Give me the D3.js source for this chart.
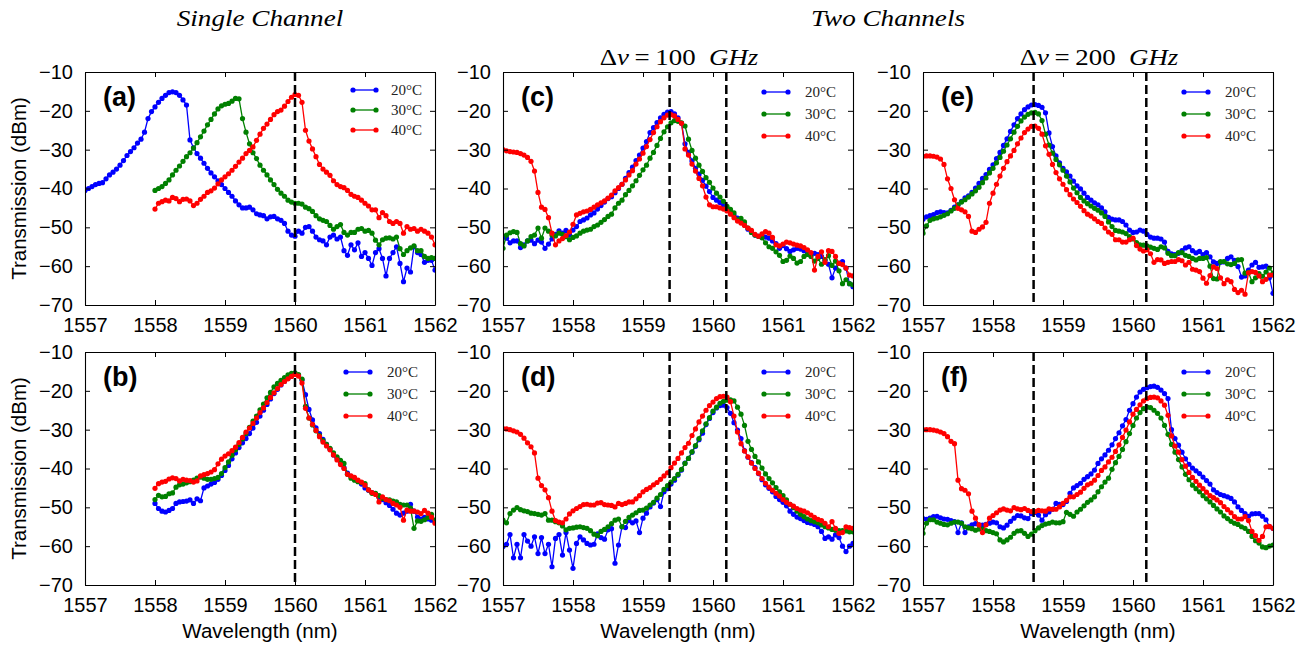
<!DOCTYPE html>
<html>
<head>
<meta charset="utf-8">
<script src="https://cdn.jsdelivr.net/npm/d3@7"></script>
<style>
body { margin: 0; background: #fff; }
svg { display: block; }
</style>
</head>
<body>
<svg id="drawing_region"></svg>
<script>
// series labels and axis ticks
const temps = ["20°C", "30°C", "40°C"];
const colors = ["#0000ff", "#008000", "#ff0000"];
const wlTicks = [1557, 1558, 1559, 1560, 1561, 1562];
const dbTicks = [-70, -60, -50, -40, -30, -20, -10];
const step = 0.05;   // nm between samples

// first wavelength of each series (20, 30, 40 C)
const startA = [1557, 1558, 1558];
const startB = [1558, 1558, 1558];
const startFull = [1557, 1557, 1557];

// dashed channel markers (nm)
const markA = [1560.0];
const markB = [1560.0];
const markCD = [1559.38, 1560.19];
const markEF = [1558.58, 1560.19];

// (a) single channel, transmission in dBm
const a20 = [-40.5,-40,-39.5,-39,-38.7,-38.5,-37.5,-36.5,-35.8,-35,
  -34,-32.8,-31.5,-30.5,-29.5,-28.3,-27.3,-25.5,-22,-20.2,
  -19,-17.8,-16.8,-16,-15.3,-15.1,-15.3,-16,-17.2,-18.5,
  -27.5,-29.5,-31,-32.2,-33.5,-34.8,-36,-37,-38,-39,
  -40,-41,-42,-43.2,-44.2,-45,-45,-44.8,-45.5,-46.5,
  -46.8,-47,-47.8,-47.3,-47.2,-47.8,-48.2,-49,-51,-52,
  -52.3,-51,-51.5,-50,-49.8,-51,-52.5,-53.2,-53.5,-54.5,
  -52.5,-52,-53,-52.5,-56,-57.2,-54.5,-55.8,-54,-57.5,
  -56.5,-58,-59.8,-56.5,-55.5,-58,-62.5,-58,-56.5,-55,
  -59.3,-64,-60.5,-61.5,-55,-56.5,-57,-59,-58.5,-58.5,
  -61];
const a30 = [-40.5,-40,-39.5,-38.7,-37.8,-36.5,-35.3,-34.2,-33,-31.8,
  -30.8,-29.6,-28.2,-26.7,-25.2,-23.6,-22.2,-20.8,-19.5,-18.7,
  -18.3,-18.1,-17.5,-16.8,-16.9,-22,-25.5,-28.5,-30.8,-32.3,
  -34,-35.3,-36.5,-37.8,-39,-40.2,-41.2,-42,-43,-43.5,
  -43.8,-43.8,-44,-44.8,-45.2,-45.9,-47,-47.8,-48.2,-48.5,
  -49.5,-50.5,-49.8,-49.3,-51.3,-52,-51.3,-51.3,-50.5,-50.3,
  -51,-50.8,-51.5,-53.3,-54.5,-53.2,-52.8,-52.7,-53,-52.5,
  -55.5,-57,-56,-55.3,-54.8,-56,-56,-57.5,-58,-57.8,
  -58];
const a40 = [-45.3,-43.8,-43.4,-43,-43.2,-42.3,-42.6,-43.4,-42.8,-42.7,
  -43.2,-44.4,-43.8,-42.8,-42,-41,-40.6,-39.9,-38.8,-37.8,
  -37,-36.2,-35.3,-34.3,-33.2,-32.2,-31,-30.2,-29.3,-27.6,
  -26,-24.5,-23.4,-22.2,-21,-20.2,-19.8,-18.8,-17.6,-16.5,
  -15.8,-16,-17.8,-25,-27.8,-29.8,-31.8,-33.8,-35,-35.8,
  -36.6,-38,-39,-39.5,-39.8,-40.5,-41.5,-42,-42.3,-43,
  -43.8,-44.5,-45.5,-45.5,-47.5,-46.2,-47,-48.5,-49,-48.5,
  -49,-51.5,-49.8,-50.5,-50.3,-51,-50.5,-51,-51.5,-52.5,
  -54.5];

// (b) single channel, tuned
const b20 = [-49,-50.3,-51,-51.2,-50.8,-50.3,-49,-48.6,-48.5,-48.4,
  -48.1,-49,-47.8,-48.3,-45,-44.5,-44,-43.6,-42.8,-41.8,
  -40.5,-39.2,-37.5,-36,-34.6,-33.4,-32.3,-31,-29.6,-28.1,
  -26.5,-25,-23.5,-22.1,-20.7,-19.6,-18.5,-17.6,-16.8,-16.2,
  -15.7,-16,-17.2,-21,-24.8,-27.5,-29.5,-31,-32.5,-33.8,
  -35,-36.5,-37.3,-38.6,-39.8,-41.2,-42,-42.6,-43.3,-44,
  -45,-45.6,-46.2,-46.5,-47.4,-48,-48.8,-49.5,-50.5,-51.5,
  -52,-51.5,-51,-49.2,-51,-52.5,-53,-52.6,-53,-53.3,
  -53.7];
const b30 = [-48,-46.9,-47.3,-47.2,-46.5,-46.3,-44.8,-44.2,-44,-43.7,
  -43.4,-43,-42.5,-42.2,-42.5,-42.8,-42.8,-42.6,-42.3,-41.3,
  -39.8,-38.3,-36.6,-35.2,-33.8,-32.4,-31,-29.4,-27.8,-26.5,
  -24.9,-23.4,-21.8,-20.4,-19,-18.1,-17.3,-16.6,-15.9,-15.5,
  -15.4,-15.8,-17,-24,-27,-28.8,-30.3,-31.5,-32.8,-33.8,
  -34.8,-36,-37,-37.9,-38.7,-41.5,-42.5,-43,-43.4,-43.6,
  -43.9,-45.5,-46.4,-46.4,-47,-47.7,-48,-48.1,-48.4,-48.6,
  -49.2,-49.4,-49.4,-50.2,-55.4,-53.5,-53.6,-53.2,-52.6,-51.8,
  -53.3];
const b40 = [-45.1,-43.9,-43.5,-43.3,-42.7,-42.4,-42.6,-43.2,-42.8,-43,
  -43.1,-43.5,-43.2,-41.9,-41.6,-41.3,-40.9,-40.3,-38.8,-37.6,
  -36.8,-36.2,-35.4,-34.5,-33.3,-32,-30.6,-29.6,-28.4,-27,
  -25.6,-24.4,-23,-21.7,-20.5,-19.4,-18.4,-17.6,-16.9,-16.3,
  -15.8,-16.2,-18,-24.5,-27,-28.6,-30.2,-31.8,-33.2,-34.2,
  -35.2,-36.5,-37.8,-39,-40,-41.5,-41.9,-42.3,-43,-43.5,
  -44.3,-45.5,-46.2,-46.7,-48.6,-47.3,-48,-48.3,-49,-49.4,
  -50,-53.3,-50.7,-51,-51,-51.2,-51.6,-50.8,-51.5,-52.5,
  -54.1];

// (c) two channels, 100 GHz, first channel
const c20 = [-52.3,-52.8,-54,-53.5,-53.5,-55.2,-54.5,-53.5,-53.3,-54.2,
  -53.3,-53.8,-55.4,-54.3,-53,-51.8,-50.9,-51.5,-50.8,-52,
  -50.7,-49.8,-48.5,-48.1,-47.6,-46.8,-46.3,-45.3,-44.4,-43.5,
  -42.6,-42.1,-41.1,-40,-38.9,-37.4,-35.9,-34.5,-32.8,-31.4,
  -29.6,-27.9,-25.6,-24.3,-23,-21.8,-20.9,-20.3,-20.2,-20.8,
  -21.8,-23.2,-28.5,-30.7,-32.9,-34.8,-36.3,-37.9,-39.4,-40.8,
  -42.3,-43,-43.6,-44.4,-45.3,-46.3,-46.9,-47.6,-48.5,-49.4,
  -50.5,-51.3,-52,-52.3,-52,-52.5,-52.8,-53.5,-54.2,-55.4,
  -54.7,-55.5,-56.2,-55.8,-55.4,-55.6,-56,-56.8,-57,-56.7,
  -57,-57.5,-58.5,-59.5,-63,-60.5,-59.2,-58.8,-60.5,-64.5,
  -65.3];
const c30 = [-55.4,-52,-51.4,-51.1,-51.3,-54.2,-54.8,-53.5,-52.4,-52,
  -50.2,-52.8,-50.2,-51,-52,-52.2,-51.5,-51.8,-52.4,-53.2,
  -52.6,-52.2,-51.5,-51,-50.7,-50.5,-49.8,-49.4,-48.7,-48,
  -47.2,-46.6,-45,-43.8,-43,-41.6,-40.5,-39.3,-38,-36.6,
  -35.2,-34,-32.2,-30.7,-28.9,-27.1,-25.4,-24.1,-23.1,-22.5,
  -22.7,-23.1,-23.9,-27.3,-30.2,-32.2,-34,-35.6,-37.2,-38.4,
  -39.9,-41.2,-42.2,-43.3,-44.6,-45.4,-46.3,-48.1,-47.7,-48.6,
  -50.2,-51.3,-52,-52.3,-52.7,-54,-55,-55.4,-56.3,-57.2,
  -58.8,-58.5,-57.4,-58,-59.2,-58.8,-57.5,-57,-57.5,-58.7,
  -58,-59.5,-58.3,-57.3,-59.8,-58.7,-61.2,-64.5,-63.5,-64.5,
  -64.8];
const c40 = [-30,-30.3,-30.5,-30.6,-30.7,-31,-31.4,-32,-33,-35.5,
  -41,-44.8,-45.4,-47.5,-51.5,-54.5,-53.5,-52.9,-52.1,-51.2,
  -49.2,-46.8,-46.4,-46,-45.8,-45.4,-44.8,-44.2,-43.7,-43.2,
  -42.5,-41.7,-40.6,-39.8,-38.9,-37.8,-36.5,-35.4,-33.7,-32.4,
  -30.9,-29.2,-27.4,-25.6,-24.1,-22.8,-21.8,-21.1,-21,-21.3,
  -22.2,-23.2,-29.8,-31.4,-33.7,-35.5,-37.4,-39.3,-42.2,-44.2,
  -44.7,-44.7,-45,-45.3,-45.8,-46.6,-47.5,-48.4,-48.9,-49.5,
  -50.2,-50.8,-51.8,-52.3,-51.7,-51.1,-51.5,-52.6,-54.5,-54.8,
  -54.3,-53.8,-54,-54.3,-54.6,-54.8,-55.2,-55.8,-56.5,-61,
  -57.5,-56.3,-59,-56,-56.2,-57.5,-59.3,-59.6,-60.5,-62.3,
  -62.5];

// (d) two channels, 100 GHz, second channel
const d20 = [-60.1,-59.5,-57,-63,-59.5,-63,-57,-58.7,-60,-57.6,
  -61.9,-57.8,-61.9,-59.5,-65.3,-58,-57,-62.3,-56.5,-61,
  -65.7,-59.3,-57.6,-58.4,-59.3,-59.7,-59.5,-56.8,-57.8,-58.2,
  -55.8,-55.5,-64.4,-59.7,-55,-55.2,-53.4,-54,-53.5,-56.5,
  -52.8,-51.5,-49.9,-48.9,-48,-49.8,-46,-45.2,-44,-43,
  -41.7,-40.4,-38.6,-37.4,-35.8,-34.3,-32.6,-30.9,-28.7,-27.1,
  -25.6,-24.4,-23.8,-23.7,-24.3,-25.8,-28.2,-30.1,-32.3,-35.4,
  -37.1,-38.5,-39.8,-41.3,-42.9,-44.2,-45.1,-46,-47.2,-48,
  -48.7,-49.6,-51,-51.8,-52.5,-52.9,-53.4,-53.9,-54.1,-54.4,
  -55,-56.2,-58,-57.6,-58.2,-57.1,-57.8,-60,-61.4,-60,
  -59.3];
const d30 = [-53.3,-54,-51.6,-50.7,-50.1,-50.6,-50.9,-51.1,-51.5,-51.6,
  -51.8,-52,-51.6,-53.3,-53.3,-53.7,-54,-54.8,-55.8,-55.4,
  -55.3,-55.1,-55,-55.2,-55.4,-56,-56.9,-57.3,-56.2,-55.7,
  -55,-54.2,-53.3,-53,-55,-53.6,-52.6,-52,-51.4,-50.8,
  -50.7,-50.2,-49.4,-48.7,-47.6,-46.7,-45.4,-44.4,-43.5,-42.6,
  -41.5,-40.2,-38.7,-37.4,-35.7,-34.1,-32.3,-30.3,-28.5,-26.9,
  -25.2,-24.2,-23.2,-22.7,-22.4,-22.3,-22.6,-24.2,-26,-28.9,
  -33,-35.1,-36.9,-38.3,-39.9,-41.4,-42.6,-43.7,-44.9,-46,
  -47,-48.1,-49.2,-50.1,-51,-51.8,-52.4,-53,-53.4,-53.7,
  -54,-54.5,-55,-55.3,-55.7,-55.9,-56,-56,-56.1,-56.3,
  -56.3];
const d40 = [-29.7,-29.8,-30,-30.3,-30.6,-31.2,-32.2,-33.4,-34.4,-36,
  -42.5,-44.4,-45.5,-47.5,-51,-53.4,-53.8,-54,-53,-51.7,
  -50.9,-50.3,-49.8,-49.3,-49.2,-49.4,-49.4,-48.9,-48.8,-49.3,
  -49.4,-49.5,-49.9,-49,-49.3,-49,-48.6,-48.6,-47.8,-47,
  -46,-45.4,-44.9,-44.2,-43.6,-42.8,-41.9,-41.1,-39.8,-38.6,
  -37.4,-36,-34.6,-33.5,-31.5,-29.8,-28,-26.5,-25,-23.8,
  -22.9,-22,-21.5,-21.4,-21.6,-22.8,-26.5,-30.6,-33.6,-35.5,
  -37,-38.6,-40,-41.2,-42.6,-43.8,-44.8,-45.6,-46.4,-47.1,
  -48,-48.7,-49.2,-49.7,-50.3,-50.7,-51,-51.4,-52,-52.6,
  -53.1,-53.4,-54.1,-55,-53.7,-55.4,-56.7,-56.5,-55,-55.2,
  -55.4];

// (e) two channels, 200 GHz, first channel
const e20 = [-47.9,-47.3,-47,-46.7,-46.2,-46,-46.2,-46.3,-45.6,-44.8,
  -44.2,-43.3,-42.4,-41.9,-41,-39.9,-38.7,-37.4,-36.4,-35.1,
  -33.9,-32.3,-30.7,-28.9,-27.2,-25.3,-23.6,-22,-20.8,-19.7,
  -19,-18.5,-18.4,-18.6,-19.1,-20.5,-25.7,-29.2,-31.6,-33.4,
  -34.8,-35.7,-36.8,-38.1,-39.3,-40.1,-41.2,-42.3,-43,-43.7,
  -44.2,-45,-46,-47.4,-47.9,-48.1,-48.1,-48.5,-49.4,-50.7,
  -51.3,-51.2,-50.7,-51,-51.8,-52.5,-52.8,-52.8,-53,-53.8,
  -56.2,-56.8,-57,-56.7,-56,-55.3,-55,-56,-56.6,-56.2,
  -57,-56.5,-57.6,-58.9,-59.3,-59,-58.9,-58,-57.6,-58.5,
  -60.1,-62.8,-62.5,-61,-59.7,-59,-60.3,-60.2,-60,-63,
  -67];
const e30 = [-51.5,-49.6,-48.2,-47.8,-47.6,-47.3,-46.9,-46.5,-45.8,-45.1,
  -44.2,-43.5,-42.9,-42.2,-41.4,-40.6,-39.7,-38.5,-37.3,-36,
  -34.8,-33.4,-32,-30.4,-28.8,-27.2,-25.5,-24,-22.6,-21.6,
  -20.9,-20.5,-20.4,-20.8,-22.5,-26,-28.8,-30.9,-32.5,-33.9,
  -35.3,-36.8,-38.3,-39.9,-41.1,-42.3,-43.2,-43.9,-44.5,-45.1,
  -45.6,-46.3,-47.2,-48.6,-49.8,-50.8,-51,-51.2,-51.6,-52.4,
  -53,-53.9,-54.5,-54.6,-54.8,-55.1,-55.4,-55.7,-55,-55.3,
  -56.7,-57.3,-57.3,-56.5,-56.5,-57.2,-57.5,-58,-58.4,-58,
  -58,-57.8,-60,-63.2,-63.3,-58.8,-58.8,-59.4,-59.6,-59.3,
  -58.4,-58.3,-61.8,-61.6,-64,-63,-61.9,-62.6,-61.5,-60.5,
  -61.8];
const e40 = [-31.7,-31.6,-31.6,-31.7,-31.9,-32.4,-33.8,-37.5,-40,-42.9,
  -45.1,-45.5,-46,-47.2,-51,-51.3,-50.5,-49.9,-48.7,-43.8,
  -41.2,-38.9,-36.8,-34.8,-33.1,-31.6,-30.2,-28.5,-27,-25.6,
  -24.7,-24,-23.9,-24.5,-26,-29,-31.2,-33.8,-35.9,-37.5,
  -38.9,-40.3,-41.6,-42.7,-43.6,-44.6,-45.7,-46.6,-47.1,-47.8,
  -48.5,-49,-50.2,-51.2,-51.8,-53.2,-53.2,-53.8,-53.8,-53.2,
  -52.8,-54.7,-55.6,-56.1,-55.8,-56.8,-59,-58.3,-58.4,-59.3,
  -59,-58.8,-58.8,-58.3,-58.6,-59.7,-59,-60.8,-61,-61.4,
  -63.1,-64.4,-62.4,-60.2,-60.6,-63,-64.5,-63.5,-64,-66,
  -66.8,-66.2,-67.2,-61.7,-61.4,-61.6,-62.5,-64,-63.4,-62.3,
  -62.3];

// (f) two channels, 200 GHz, second channel
const f20 = [-52.9,-53.1,-52.8,-52.4,-52.3,-52.7,-53,-53.1,-53.4,-53.7,
  -56.5,-54,-56.5,-55,-54.5,-54.2,-54.5,-54.6,-54.4,-54.1,
  -53.8,-54,-55,-55.3,-54.6,-53.6,-52.8,-52.1,-52.2,-52.7,
  -52.9,-51.6,-51.3,-52,-53.3,-51.9,-51.2,-50.5,-49,-49.2,
  -49.3,-48.5,-46.4,-45,-44.4,-43.8,-42.8,-42.1,-41.4,-40.4,
  -38.7,-37.5,-36.5,-35.3,-33.9,-32.3,-30.8,-29,-27.4,-25,
  -23.3,-21.6,-20.3,-19.6,-19.2,-18.9,-18.8,-19.1,-19.8,-20.7,
  -22,-30,-32.3,-34,-35.8,-37.5,-38.9,-39.9,-40.6,-41.3,
  -42.2,-43.1,-44,-45.5,-46.2,-46.7,-47,-47.3,-47.7,-48.6,
  -49.9,-50.8,-51.6,-52.3,-51.7,-51.6,-51.6,-52.3,-53.2,-55,
  -55.4];
const f30 = [-56.7,-54.1,-53.2,-53.2,-53.8,-54.1,-54.4,-54.5,-54.1,-53.8,
  -53.8,-54.1,-55,-55.3,-55.5,-55.9,-55.6,-55.6,-56,-56.2,
  -56.5,-56.8,-58.4,-58.9,-58.4,-57.7,-56.7,-56.1,-56,-56.7,
  -57.5,-56.9,-56,-55.3,-54.7,-54.3,-54.1,-53.8,-54,-54,
  -53.7,-51.3,-51.8,-52.3,-51.2,-50.5,-49.6,-48.7,-48.1,-47.3,
  -46,-44.7,-43.5,-42.5,-40.2,-38.5,-36.9,-35.1,-33.1,-31,
  -28.9,-27,-25.6,-24.6,-24.2,-24.3,-25,-25.8,-27,-28.9,
  -31.2,-33.8,-35.8,-37.7,-39.6,-41.5,-42.9,-44.3,-45.2,-46,
  -47,-47.8,-48.6,-49.5,-50.4,-51.2,-52.2,-52.9,-53.6,-54.1,
  -54.4,-55,-55.4,-56.2,-57.5,-58.6,-59.2,-60.2,-60.4,-60,
  -59.7];
const f40 = [-30,-30,-30,-30.1,-30.3,-30.6,-31,-31.8,-33,-33.6,
  -43,-45.2,-45.6,-46.5,-51,-52.8,-54.5,-56.5,-54.5,-52.8,
  -52.1,-51.4,-50.7,-50.4,-50.7,-50.9,-50.1,-50.4,-50.6,-50.3,
  -50.8,-51.1,-51.1,-50.8,-50.9,-51,-50.4,-50.5,-50.5,-49.9,
  -49,-48.2,-47.3,-47.3,-46.7,-46.1,-45.1,-44.2,-43.8,-43,
  -41.8,-40.5,-39.6,-38.3,-37.1,-35.6,-33.9,-32,-30.1,-28,
  -26,-24.8,-23.6,-22.6,-22,-21.7,-21.6,-21.8,-22.6,-23.7,
  -26.3,-31.6,-34.2,-35.8,-37.7,-39.4,-41,-42.3,-43.3,-44.3,
  -45.2,-46.1,-47,-47.5,-48.1,-48.8,-49.8,-50.6,-51.4,-52.4,
  -53,-53,-52.4,-53.4,-56.2,-57.3,-58.5,-57.5,-55,-54.9,
  -55.4];

// layout
const width = 1309, height = 646;
const pw = 350, ph = 233;
const colX = [85, 503, 923];
const rowY = [72, 352];

const panels = [
  {label: "(a)", col: 0, row: 0, series: [a20, a30, a40], starts: startA, marks: markA, small: true},
  {label: "(b)", col: 0, row: 1, series: [b20, b30, b40], starts: startB, marks: markB},
  {label: "(c)", col: 1, row: 0, series: [c20, c30, c40], starts: startFull, marks: markCD},
  {label: "(d)", col: 1, row: 1, series: [d20, d30, d40], starts: startFull, marks: markCD},
  {label: "(e)", col: 2, row: 0, series: [e20, e30, e40], starts: startFull, marks: markEF},
  {label: "(f)", col: 2, row: 1, series: [f20, f30, f40], starts: startFull, marks: markEF}
];

const svg = d3.select('#drawing_region')
    .attr('width', width)
    .attr('height', height);

svg.append('rect').attr('width', width).attr('height', height).attr('fill', '#fff');

const xscale = d3.scaleLinear().domain([1557, 1562]).range([0, pw]);
const yscale = d3.scaleLinear().domain([-70, -10]).range([ph, 0]);

const line = d3.line()
    .x(d => xscale(d[0]))
    .y(d => yscale(d[1]));

const sans = "'Liberation Sans', Arial, sans-serif";
const serif = "'Liberation Serif', 'Times New Roman', serif";

panels.forEach((p, k) => {
  const g = svg.append('g')
      .attr('transform', `translate(${colX[p.col]}, ${rowY[p.row]})`);

  g.append('clipPath').attr('id', 'clip' + k)
    .append('rect').attr('width', pw).attr('height', ph);

  const plot = g.append('g').attr('clip-path', `url(#clip${k})`);

  // curves, blue first so red ends on top
  p.series.forEach((vals, s) => {
    const pts = vals.map((v, i) => [p.starts[s] + i * step, v]);
    plot.append('path')
        .datum(pts)
        .attr('fill', 'none')
        .attr('stroke', colors[s])
        .attr('stroke-width', 1.3)
        .attr('d', line);
    plot.selectAll(null).data(pts).enter()
        .append('circle')
        .attr('cx', d => xscale(d[0]))
        .attr('cy', d => yscale(d[1]))
        .attr('r', 2.6)
        .attr('fill', colors[s]);
  });

  // dashed channel lines
  plot.selectAll(null).data(p.marks).enter()
      .append('line')
      .attr('x1', d => xscale(d)).attr('x2', d => xscale(d))
      .attr('y1', 0).attr('y2', ph)
      .attr('stroke', '#000')
      .attr('stroke-width', 2.5)
      .attr('stroke-dasharray', '9,4');

  // axes, ticks pointing inward on all sides
  const xaxis = d3.axisBottom(xscale).tickValues(wlTicks).tickFormat(d3.format('d'))
      .tickSizeInner(-5).tickSizeOuter(0).tickPadding(13);
  const yaxis = d3.axisLeft(yscale).tickValues(dbTicks).tickFormat(d3.format('d'))
      .tickSizeInner(-5).tickSizeOuter(0).tickPadding(12);
  const xtop = d3.axisTop(xscale).tickValues(wlTicks).tickFormat('')
      .tickSizeInner(-5).tickSizeOuter(0);
  const yright = d3.axisRight(yscale).tickValues(dbTicks).tickFormat('')
      .tickSizeInner(-5).tickSizeOuter(0);

  g.append('g').attr('transform', `translate(0, ${ph})`).call(xaxis);
  g.append('g').call(yaxis);
  g.append('g').call(xtop);
  g.append('g').attr('transform', `translate(${pw}, 0)`).call(yright);

  g.selectAll('.domain').attr('stroke', '#000').attr('stroke-width', 1.1);
  g.selectAll('.tick line').attr('stroke', '#000').attr('stroke-width', 1);
  g.selectAll('.tick text')
      .attr('font-family', sans)
      .attr('font-size', 20)
      .attr('fill', '#000');

  // panel letter
  g.append('text')
      .attr('x', 18).attr('y', 34)
      .attr('font-family', sans)
      .attr('font-weight', 'bold')
      .attr('font-size', 27)
      .text(p.label);

  // legend
  const lg = p.small
      ? {x0: 268, x1: 291, tx: 306, y0: 18, dy: 20}
      : {x0: 261, x1: 285, tx: 302, y0: 20, dy: 22};
  temps.forEach((t, s) => {
    const yy = lg.y0 + s * lg.dy;
    g.append('line')
        .attr('x1', lg.x0).attr('x2', lg.x1).attr('y1', yy).attr('y2', yy)
        .attr('stroke', colors[s]).attr('stroke-width', 1.3);
    [lg.x0, lg.x1].forEach(cx => {
      g.append('circle').attr('cx', cx).attr('cy', yy).attr('r', 2.6).attr('fill', colors[s]);
    });
    g.append('text')
        .attr('x', lg.tx).attr('y', yy).attr('dy', '0.35em')
        .attr('font-family', serif)
        .attr('font-size', 15)
        .attr('fill', '#222')
        .text(t);
  });

  // axis titles
  if (p.row === 1) {
    g.append('text')
        .attr('x', pw / 2).attr('y', 638 - rowY[1])
        .attr('text-anchor', 'middle')
        .attr('font-family', sans)
        .attr('font-size', 20.5)
        .text('Wavelength (nm)');
  }
  if (p.col === 0) {
    g.append('text')
        .attr('transform', `translate(${26 - colX[0]}, ${ph / 2}) rotate(-90)`)
        .attr('text-anchor', 'middle')
        .attr('font-family', sans)
        .attr('font-size', 20.5)
        .text('Transmission (dBm)');
  }
});

// column titles, widened to match the math-italic look
const titles = ["Single Channel", "Two Channels"];
const titleX = [260, 888];
titles.forEach((t, i) => {
  svg.append('g')
      .attr('transform', `translate(${titleX[i]}, 26) scale(1.18, 1)`)
    .append('text')
      .attr('text-anchor', 'middle')
      .attr('font-family', serif).attr('font-style', 'italic').attr('font-size', 23)
      .text(t);
});

const spacings = ["100", "200"];
const spacingX = [679, 1099];
spacings.forEach((s, i) => {
  const t = svg.append('g')
      .attr('transform', `translate(${spacingX[i]}, 65) scale(1.12, 1)`)
    .append('text')
      .attr('text-anchor', 'middle')
      .attr('font-family', serif).attr('font-size', 24);
  t.append('tspan').text('Δ');
  t.append('tspan').attr('font-style', 'italic').text('ν');
  t.append('tspan').attr('dx', 5).text('=');
  t.append('tspan').attr('dx', 5).text(s);
  t.append('tspan').attr('dx', 12).attr('font-style', 'italic').text('GHz');
});
</script>
</body>
</html>
